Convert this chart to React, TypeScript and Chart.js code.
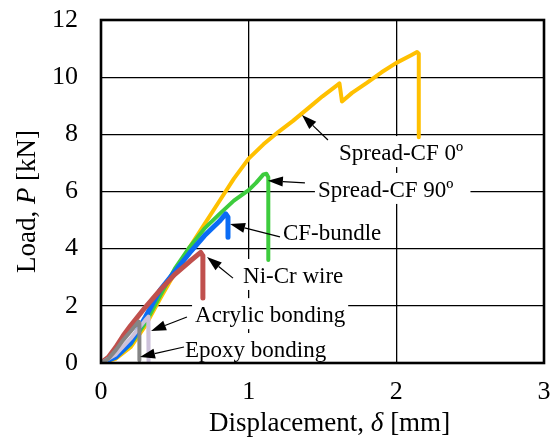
import React, { useEffect, useRef } from 'react';
import { Chart, registerables } from 'chart.js';

Chart.register(...registerables);

const FONT = '"Liberation Serif", "Times New Roman", serif';

// Axis ticks
const xTickValues = [0, 1, 2, 3];
const yTickValues = [0, 2, 4, 6, 8, 10, 12];

// Spread-CF 0º
const spread0X = [0, 0.1, 0.2, 0.3, 0.4, 0.5, 0.6, 0.7, 0.8, 0.9, 1.0, 1.1, 1.2, 1.3, 1.4, 1.5, 1.6, 1.615, 1.632, 1.7, 1.8, 1.9, 2.0, 2.1, 2.14, 2.152, 2.152];
const spread0Y = [0, 0.15, 0.55, 1.3, 2.25, 3.15, 4.05, 4.85, 5.65, 6.45, 7.15, 7.65, 8.08, 8.47, 8.9, 9.33, 9.72, 9.78, 9.15, 9.45, 9.8, 10.17, 10.5, 10.77, 10.88, 10.82, 7.9];

// Spread-CF 90º
const spread90X = [0, 0.1, 0.2, 0.3, 0.4, 0.5, 0.6, 0.7, 0.8, 0.9, 1.0, 1.05, 1.1, 1.12, 1.133, 1.133];
const spread90Y = [0, 0.2, 0.65, 1.4, 2.35, 3.3, 4.05, 4.7, 5.2, 5.68, 6.05, 6.3, 6.6, 6.62, 6.5, 3.6];

// CF-bundle
const bundleX = [0, 0.1, 0.2, 0.3, 0.4, 0.5, 0.6, 0.7, 0.8, 0.845, 0.86, 0.86];
const bundleY = [0, 0.2, 0.7, 1.6, 2.55, 3.2, 3.85, 4.45, 4.95, 5.22, 5.1, 4.4];

// Ni-Cr wire
const nicrX = [0, 0.05, 0.1, 0.15, 0.2, 0.3, 0.4, 0.5, 0.6, 0.675, 0.69, 0.69];
const nicrY = [0, 0.2, 0.55, 0.95, 1.3, 1.95, 2.55, 3.1, 3.55, 3.87, 3.75, 2.27];

// Acrylic bonding
const acrylicX = [0, 0.1, 0.2, 0.3, 0.32, 0.322, 0.322];
const acrylicY = [0, 0.3, 0.85, 1.5, 1.62, 1.55, 0.05];

// Epoxy bonding
const epoxyX = [0, 0.05, 0.1, 0.15, 0.2, 0.255, 0.26, 0.26];
const epoxyY = [0, 0.15, 0.45, 0.8, 1.1, 1.45, 1.4, 0.1];

// Annotation labels (text anchor and arrow, in data units)
const annotations = [
  { text: 'Spread-CF 0º', tx: 1.612, ty: 7.1, tailX: 1.537, tailY: 7.8, tipX: 1.361, tipY: 8.68, padR: 3 },
  { text: 'Spread-CF 90º', tx: 1.469, ty: 5.81, tailX: 1.381, tailY: 6.3, tipX: 1.13, tipY: 6.38, padR: 17 },
  { text: 'CF-bundle', tx: 1.232, ty: 4.3, tailX: 1.212, tailY: 4.41, tipX: 0.874, tipY: 4.86, padR: 3 },
  { text: 'Ni-Cr wire', tx: 0.962, ty: 2.8, tailX: 0.894, tailY: 2.97, tipX: 0.718, tipY: 3.71, padR: 3 },
  { text: 'Acrylic bonding', tx: 0.637, ty: 1.43, tailX: 0.582, tailY: 1.61, tipX: 0.339, tipY: 1.12, padR: 3 },
  { text: 'Epoxy bonding', tx: 0.569, ty: 0.21, tailX: 0.562, tailY: 0.56, tipX: 0.264, tipY: 0.21, padR: 3 },
];

const toPoints = (xs: number[], ys: number[]) => xs.map((x, i) => ({ x, y: ys[i] }));

function drawArrow(ctx: CanvasRenderingContext2D, x1: number, y1: number, x2: number, y2: number) {
  const ang = Math.atan2(y2 - y1, x2 - x1);
  const headLen = 15;
  const headW = 5;
  const bx = x2 - headLen * Math.cos(ang);
  const by = y2 - headLen * Math.sin(ang);
  ctx.beginPath();
  ctx.moveTo(x1, y1);
  ctx.lineTo(bx, by);
  ctx.stroke();
  ctx.beginPath();
  ctx.moveTo(x2, y2);
  ctx.lineTo(bx + headW * Math.sin(ang), by - headW * Math.cos(ang));
  ctx.lineTo(bx - headW * Math.sin(ang), by + headW * Math.cos(ang));
  ctx.closePath();
  ctx.fill();
}

function drawMixed(ctx: CanvasRenderingContext2D, parts: { t: string; italic: boolean }[], size: number, cx: number, y: number) {
  const widths = parts.map((p) => {
    ctx.font = `${p.italic ? 'italic ' : ''}${size}px ${FONT}`;
    return ctx.measureText(p.t).width;
  });
  const total = widths.reduce((a, b) => a + b, 0);
  let x = cx - total / 2;
  parts.forEach((p, i) => {
    ctx.font = `${p.italic ? 'italic ' : ''}${size}px ${FONT}`;
    ctx.fillText(p.t, x, y);
    x += widths[i];
  });
}

const overlayPlugin = {
  id: 'overlay',
  beforeDatasetsDraw(chart: any) {
    const { ctx, scales } = chart;
    const xs = scales.x;
    const ys = scales.y;
    ctx.save();
    ctx.font = `23px ${FONT}`;
    ctx.fillStyle = '#ffffff';
    for (const a of annotations) {
      const px = xs.getPixelForValue(a.tx);
      const py = ys.getPixelForValue(a.ty);
      const w = ctx.measureText(a.text).width;
      ctx.fillRect(px - 3, py - 24, w + 3 + a.padR, 31);
    }
    ctx.restore();
  },
  afterDatasetsDraw(chart: any) {
    const { ctx, scales, chartArea: ca } = chart;
    const xs = scales.x;
    const ys = scales.y;
    ctx.save();
    // frame
    ctx.strokeStyle = '#000';
    ctx.lineWidth = 2.6;
    ctx.strokeRect(ca.left, ca.top, ca.right - ca.left, ca.bottom - ca.top);
    // annotations
    ctx.fillStyle = '#000';
    ctx.lineWidth = 1.2;
    ctx.textBaseline = 'alphabetic';
    ctx.textAlign = 'left';
    for (const a of annotations) {
      ctx.font = `23px ${FONT}`;
      ctx.fillText(a.text, xs.getPixelForValue(a.tx), ys.getPixelForValue(a.ty));
      drawArrow(
        ctx,
        xs.getPixelForValue(a.tailX),
        ys.getPixelForValue(a.tailY),
        xs.getPixelForValue(a.tipX),
        ys.getPixelForValue(a.tipY)
      );
    }
    // axis titles
    drawMixed(
      ctx,
      [
        { t: 'Displacement, ', italic: false },
        { t: 'δ', italic: true },
        { t: ' [mm]', italic: false },
      ],
      27,
      (ca.left + ca.right) / 2 + 7,
      ca.bottom + 68
    );
    ctx.save();
    ctx.translate(ca.left - 66, (ca.top + ca.bottom) / 2 + 10);
    ctx.rotate(-Math.PI / 2);
    drawMixed(
      ctx,
      [
        { t: 'Load, ', italic: false },
        { t: 'P', italic: true },
        { t: ' [kN]', italic: false },
      ],
      27,
      0,
      0
    );
    ctx.restore();
    ctx.restore();
  },
};

const zeroPad = (s: any) => {
  s.paddingTop = 0;
  s.paddingBottom = 0;
  s.paddingLeft = 0;
  s.paddingRight = 0;
};

export default function App() {
  const ref = useRef<HTMLCanvasElement | null>(null);

  useEffect(() => {
    if (!ref.current) return;
    const mk = (label: string, xs: number[], ys: number[], color: string, width: number) => ({
      label,
      data: toPoints(xs, ys),
      borderColor: color,
      backgroundColor: color,
      borderWidth: width,
      showLine: true,
      pointRadius: 0,
      tension: 0,
      borderJoinStyle: 'round' as const,
      borderCapStyle: 'round' as const,
      fill: false,
    });
    const chart = new Chart(ref.current, {
      type: 'scatter',
      data: {
        datasets: [
          mk('Epoxy bonding', epoxyX, epoxyY, '#858585', 4),
          mk('Acrylic bonding', acrylicX, acrylicY, '#CCC1DA', 4),
          mk('Ni-Cr wire', nicrX, nicrY, '#C0504D', 5),
          mk('CF-bundle', bundleX, bundleY, '#0A6CF5', 5),
          mk('Spread-CF 90º', spread90X, spread90Y, '#3DCC3D', 4),
          mk('Spread-CF 0º', spread0X, spread0Y, '#FFC000', 4),
        ],
      },
      options: {
        animation: false,
        responsive: false,
        devicePixelRatio: 1,
        layout: { padding: { top: 20, right: 7, left: 0, bottom: 0 } },
        plugins: { legend: { display: false }, tooltip: { enabled: false } },
        scales: {
          x: {
            type: 'linear',
            min: xTickValues[0],
            max: xTickValues[xTickValues.length - 1],
            afterFit: (s: any) => {
              s.height = 83;
              zeroPad(s);
            },
            afterBuildTicks: (s: any) => {
              s.ticks = xTickValues.map((v) => ({ value: v }));
            },
            ticks: { font: { family: FONT, size: 26 }, color: '#000', padding: 14 },
            grid: { color: '#000', lineWidth: 1.3, drawTicks: false },
            border: { display: false },
          },
          y: {
            type: 'linear',
            min: yTickValues[0],
            max: yTickValues[yTickValues.length - 1],
            afterFit: (s: any) => {
              s.width = 101;
              zeroPad(s);
            },
            afterBuildTicks: (s: any) => {
              s.ticks = yTickValues.map((v) => ({ value: v }));
            },
            ticks: { font: { family: FONT, size: 26 }, color: '#000', padding: 23 },
            grid: { color: '#000', lineWidth: 1.3, drawTicks: false },
            border: { display: false },
          },
        },
      },
      plugins: [overlayPlugin],
    });
    return () => chart.destroy();
  }, []);

  return (
    <div style={{ position: 'fixed', left: 0, top: 0, width: 551, height: 446, background: '#fff' }}>
      <canvas ref={ref} width={551} height={446} />
    </div>
  );
}
